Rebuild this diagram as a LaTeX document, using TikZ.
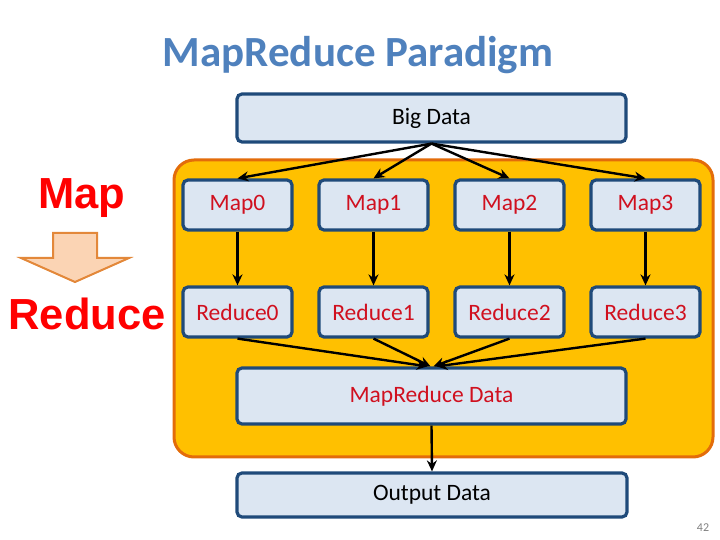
\documentclass[tikz,border=0pt]{standalone}
\usepackage{fontspec}
\setmainfont{Carlito}
\newfontfamily\arialfont{Liberation Sans}
\usetikzlibrary{arrows.meta}
\definecolor{boxfill}{HTML}{DCE6F2}
\definecolor{boxline}{HTML}{1F4A7A}
\definecolor{contfill}{HTML}{FFC000}
\definecolor{contline}{HTML}{E36C0A}
\definecolor{titleblue}{HTML}{4F81BD}
\definecolor{boxred}{HTML}{D0101F}
\definecolor{peach}{HTML}{FBD4B4}
\definecolor{peachline}{HTML}{E3883A}
\tikzset{
  databox/.style={draw=boxline, fill=boxfill, line width=3.2pt, rounded corners=5pt, inner sep=0pt, font=\fontsize{23.5}{27}\selectfont},
  smallbox/.style={databox, minimum width=109pt, minimum height=50pt, text=boxred},
  conn/.style={line width=2.4pt, -{Stealth[length=11pt,width=10pt]}},
  sidelbl/.style={text=red, font=\arialfont\bfseries\fontsize{43.5}{48}\selectfont}
}
\begin{document}
\begin{tikzpicture}[x=1pt,y=1pt]
\useasboundingbox (0,0) rectangle (720,540);
% title
\node (title) at (358,485) {\fontsize{43}{48}\selectfont\bfseries\color{titleblue}MapReduce Paradigm};
% container
\draw[fill=contfill, draw=contline, line width=3pt, rounded corners=20pt] (174,380) rectangle (713,83);
% boxes
\node[databox, minimum width=389pt, minimum height=48pt] (big) at (431.5,422) {Big Data};
\foreach \i/\x in {0/237.5,1/373.5,2/509.5,3/645.5}{
  \node[smallbox] (map\i) at (\x,335) {Map\i};
  \node[smallbox] (red\i) at (\x,228) {Reduce\i};
}
\node[databox, minimum width=389pt, minimum height=56pt, text=boxred] (mrd) at (431.5,144) {MapReduce Data};
\node[databox, minimum width=390pt, minimum height=44pt] (out) at (432,45) {Output Data};
% connectors
\foreach \i in {0,1,2,3}{
  \draw[conn] (big.south) -- (map\i.north);
  \draw[conn] (map\i.south) -- (red\i.north);
}
\draw[conn] (red0.south) -- ([xshift=-4pt]mrd.north);
\draw[conn] (red1.south) -- ([xshift=-1pt]mrd.north);
\draw[conn] (red2.south) -- ([xshift=2pt]mrd.north);
\draw[conn] (red3.south) -- ([xshift=5pt]mrd.north);
\draw[conn] (mrd.south) -- (out.north);
% left labels
\node[sidelbl] (maplbl) at (82,342) {Map};
\node[sidelbl] (redlbl) at (87,226) {Reduce};
\draw[fill=peach, draw=peachline, line width=2pt] (53,307) -- (97,307) -- (97,282) -- (129,282) -- (75,258) -- (21,282) -- (53,282) -- cycle;
% page number
\node[text=gray, font=\fontsize{12}{14}\selectfont] (pg) at (703,12) {42};
\end{tikzpicture}
\end{document}
